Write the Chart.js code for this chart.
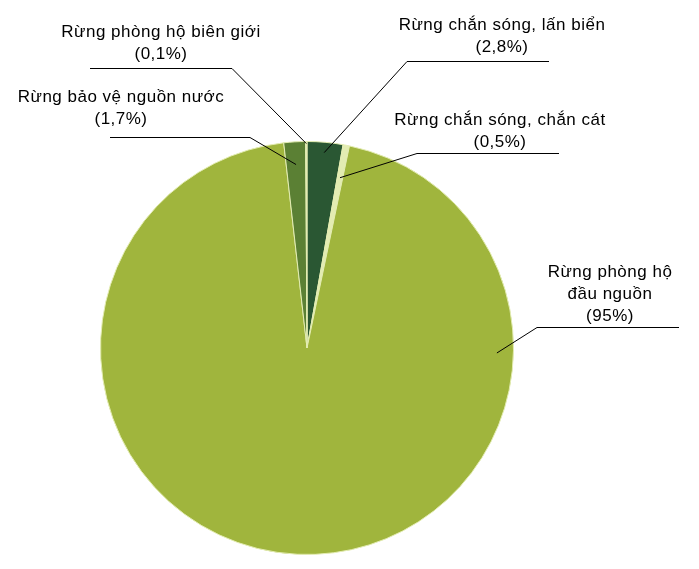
<!DOCTYPE html>
<html>
<head>
<meta charset="utf-8">
<script src="https://cdn.jsdelivr.net/npm/chart.js@4.4.1/dist/chart.umd.min.js"></script>
<style>
    html, body { margin: 0; padding: 0; background: #ffffff; }
    #wrap { width: 699px; height: 569px; position: relative; }
</style>
</head>
<body>
<div id="wrap"><canvas id="pieChart"></canvas></div>
<script>
// Data (clockwise from 12 o'clock)
const categories = [
    'Rừng chắn sóng, lấn biển',
    'Rừng chắn sóng, chắn cát',
    'Rừng phòng hộ đầu nguồn',
    'Rừng bảo vệ nguồn nước',
    'Rừng phòng hộ biên giới'
];
const shares = [2.8, 0.5, 95, 1.7, 0.1];
const shareLabels = ['(2,8%)', '(0,5%)', '(95%)', '(1,7%)', '(0,1%)'];
// How each label's name is wrapped on the chart
const labelLines = [
    ['Rừng chắn sóng, lấn biển'],
    ['Rừng chắn sóng, chắn cát'],
    ['Rừng phòng hộ', 'đầu nguồn'],
    ['Rừng bảo vệ nguồn nước'],
    ['Rừng phòng hộ biên giới']
];

// Styles
const sliceColors = ['#2a5733', '#e3ecb2', '#a0b53d', '#5b8034', '#e3ecb2'];
const FONT = '17px "Liberation Sans", Arial, sans-serif';
const LINE_GAP = 22;

// Label placement: text centre x, first baseline y, elbow of leader, far end of shelf,
// where the leader meets the slice (fraction of radius, optional angle in degrees from top)
const labelLayout = [
    { cx: 502, y: 29.5, elbowX: 407, endX: 549, shelfY: 61, rFrac: 0.95 },
    { cx: 500, y: 125, elbowX: 417, endX: 559, shelfY: 153, rFrac: 0.84 },
    { cx: 610, y: 277, elbowX: 537, endX: 679, shelfY: 327, rFrac: 0.92, angle: 91.5 },
    { cx: 121, y: 102, elbowX: 250, endX: 110, shelfY: 137, rFrac: 0.89 },
    { cx: 161, y: 37, elbowX: 232, endX: 90, shelfY: 68, rFrac: 0.99 }
];

// Draw labels with leader lines anchored on the arcs
const leaderLabels = {
    id: 'leaderLabels',
    afterDatasetsDraw(chart) {
        const ctx = chart.ctx;
        const arcs = chart.getDatasetMeta(0).data;
        ctx.save();
        ctx.font = FONT;
        ctx.letterSpacing = '0.5px';
        ctx.fillStyle = '#000000';
        ctx.textAlign = 'center';
        ctx.textBaseline = 'alphabetic';
        ctx.strokeStyle = '#000000';
        ctx.lineWidth = 1;

        arcs.forEach((arc, i) => {
            const lay = labelLayout[i];
            const lines = labelLines[i].concat([shareLabels[i]]);
            lines.forEach((t, k) => ctx.fillText(t, lay.cx, lay.y + k * LINE_GAP));

            const mid = lay.angle !== undefined
                ? (lay.angle - 90) * Math.PI / 180
                : (arc.startAngle + arc.endAngle) / 2;
            const px = arc.x + Math.cos(mid) * arc.outerRadius * lay.rFrac;
            const py = arc.y + Math.sin(mid) * arc.outerRadius * lay.rFrac;

            ctx.beginPath();
            ctx.moveTo(lay.endX, lay.shelfY + 0.5);
            ctx.lineTo(lay.elbowX, lay.shelfY + 0.5);
            ctx.lineTo(px, py);
            ctx.stroke();
        });
        ctx.restore();
    }
};

function initChart() {
    const ctx = document.getElementById('pieChart').getContext('2d');
    new Chart(ctx, {
        type: 'pie',
        data: {
            labels: categories,
            datasets: [{
                data: shares,
                backgroundColor: sliceColors,
                borderColor: '#e3ecb2',
                borderWidth: 1
            }]
        },
        options: {
            responsive: true,
            maintainAspectRatio: false,
            animation: false,
            layout: {
                padding: { left: 100, right: 185, top: 141, bottom: 14 }
            },
            plugins: {
                legend: { display: false },
                tooltip: { enabled: false }
            }
        },
        plugins: [leaderLabels]
    });
}

initChart();
</script>
</body>
</html>
